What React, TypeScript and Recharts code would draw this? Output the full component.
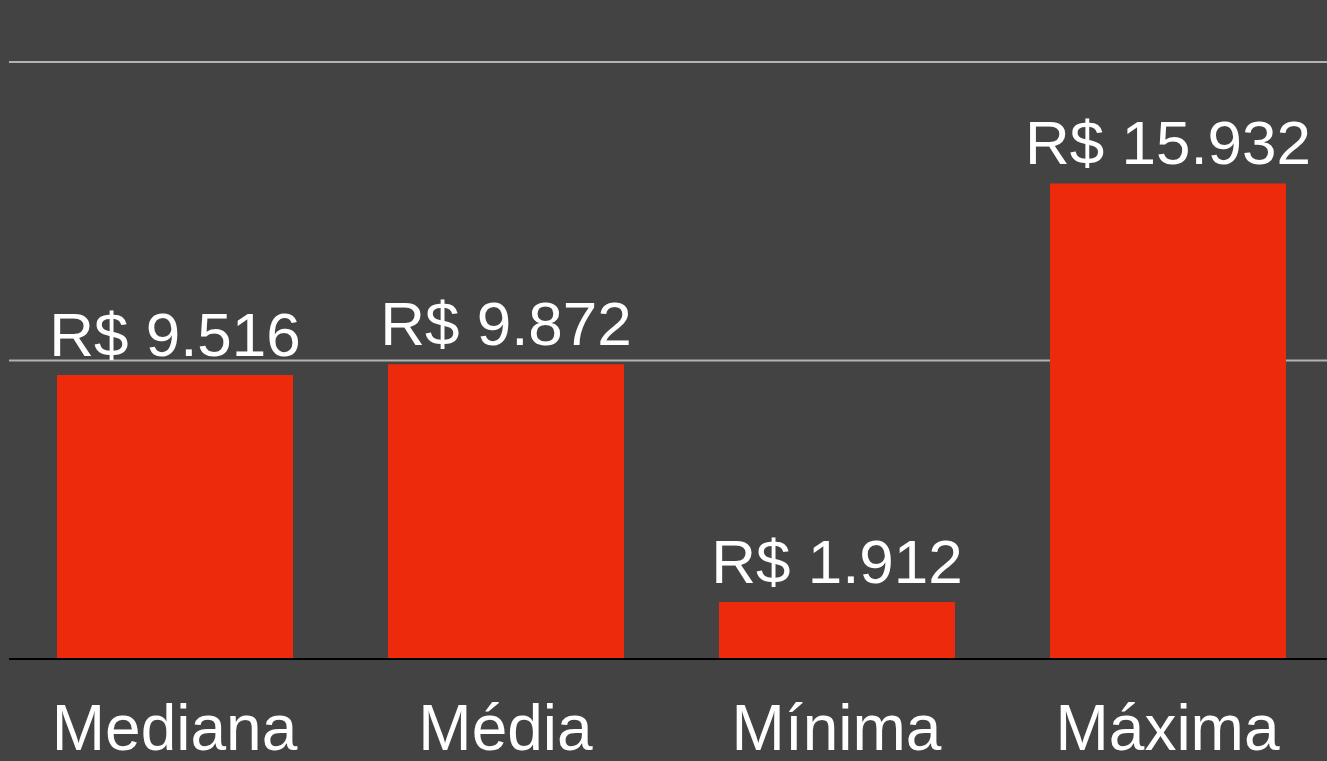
import React from "react";
import { BarChart, Bar, XAxis, YAxis, CartesianGrid, LabelList } from "recharts";

const categories = ["Mediana", "Média", "Mínima", "Máxima"];
const values = [9516, 9872, 1912, 15932];
const yTicks = [0, 10000, 20000];

const data = categories.map((name, i) => ({ name, value: values[i] }));

const FONT = "'Liberation Sans', Arial, Helvetica, sans-serif";

function fmt(v: number): string {
  const s = Math.round(v).toString();
  return "R$ " + s.replace(/\B(?=(\d{3})+(?!\d))/g, ".");
}

const BarLabel = (props: any) => {
  const { x, y, width, value } = props;
  return (
    <text
      x={Number(x) + Number(width) / 2}
      y={Number(y) - 19}
      textAnchor="middle"
      fill="#ffffff"
      fontSize={62}
      fontFamily={FONT}
    >
      {fmt(Number(value))}
    </text>
  );
};

const Tick = (props: any) => {
  const { x, y, payload } = props;
  return (
    <text
      x={x}
      y={Number(y) + 91}
      textAnchor="middle"
      fill="#ffffff"
      fontSize={64}
      fontFamily={FONT}
    >
      {payload.value}
    </text>
  );
};

export default function App() {
  return (
    <div
      style={{
        position: "fixed",
        left: 0,
        top: 0,
        width: 1327,
        height: 761,
        overflow: "hidden",
        background: "#434343",
      }}
    >
      <BarChart
        width={1333}
        height={761}
        data={data}
        margin={{ top: 62, right: 0, bottom: 72, left: 9 }}
        barSize={236}
      >
        <CartesianGrid
          vertical={false}
          horizontal={true}
          stroke="#b3b3b3"
          strokeWidth={2}
        />
        <YAxis hide domain={[0, 20000]} ticks={yTicks} />
        <XAxis
          dataKey="name"
          axisLine={{ stroke: "#000000", strokeWidth: 2 }}
          tickLine={false}
          tickSize={0}
          tickMargin={0}
          tick={<Tick />}
          interval={0}
        />
        <Bar dataKey="value" fill="#ED2B0C" isAnimationActive={false}>
          <LabelList dataKey="value" content={<BarLabel />} />
        </Bar>
      </BarChart>
    </div>
  );
}
